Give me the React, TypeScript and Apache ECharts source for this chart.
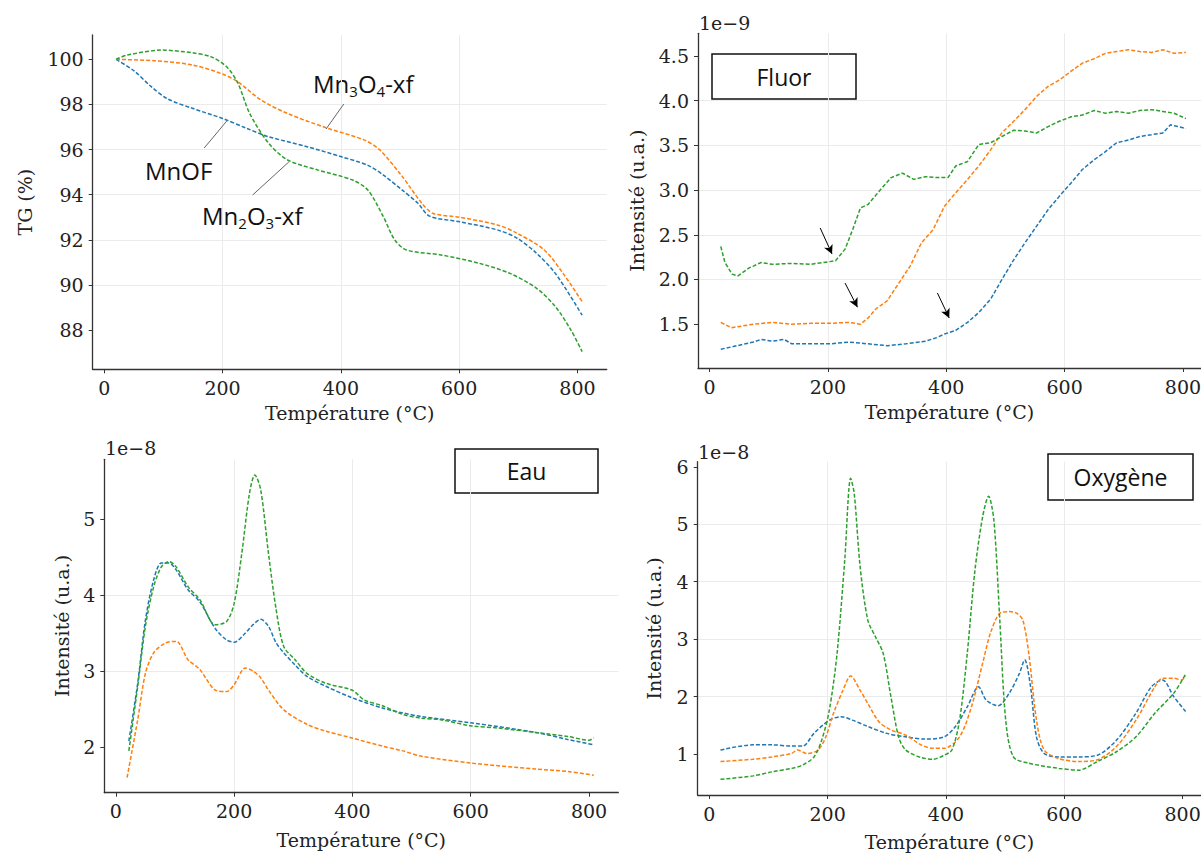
import React, { useEffect, useRef } from "react";
import * as echarts from "echarts";

// ---------- DATA ----------
const xTicks = [0, 200, 400, 600, 800];

// TG (%)
const tgMnOFT = [20, 50, 79, 107, 149, 200, 240, 278, 343, 401, 446, 472, 504, 530, 550, 601, 666, 698, 731, 763, 808];
const tgMnOFV = [100.0, 99.5, 98.8, 98.25, 97.83, 97.38, 96.95, 96.57, 96.13, 95.68, 95.3, 94.87, 94.2, 93.63, 93.05, 92.8, 92.43, 92.07, 91.4, 90.5, 88.66];
const tgMn3O4T = [20, 84, 149, 200, 226, 265, 310, 375, 440, 466, 504, 537, 556, 601, 666, 698, 744, 776, 808];
const tgMn3O4V = [100.0, 99.94, 99.75, 99.35, 99.0, 98.2, 97.6, 96.97, 96.42, 95.98, 94.8, 93.62, 93.17, 93.0, 92.65, 92.29, 91.55, 90.5, 89.26];
const tgMn2O3T = [20, 39, 97, 149, 181, 207, 226, 246, 278, 310, 362, 420, 446, 472, 491, 511, 569, 634, 686, 731, 763, 789, 808];
const tgMn2O3V = [100.0, 100.19, 100.41, 100.29, 100.11, 99.67, 98.94, 97.6, 96.28, 95.54, 95.09, 94.65, 94.2, 93.02, 92.0, 91.55, 91.33, 90.96, 90.51, 89.85, 89.03, 88.0, 87.04];
const tgTicks = [88, 90, 92, 94, 96, 98, 100];

// Fluor (x1e-9)
const fBlueT = [19, 40, 74, 87, 106, 126, 139, 171, 203, 236, 268, 300, 332, 365, 384, 397, 416, 436, 455, 475, 494, 514, 533, 553, 572, 591, 611, 630, 650, 669, 688, 708, 727, 747, 766, 779, 792, 805];
const fBlueV = [1.22, 1.25, 1.3, 1.33, 1.31, 1.33, 1.28, 1.28, 1.28, 1.3, 1.28, 1.26, 1.28, 1.31, 1.35, 1.39, 1.43, 1.52, 1.63, 1.78, 2.0, 2.22, 2.41, 2.6, 2.78, 2.93, 3.08, 3.23, 3.34, 3.43, 3.53, 3.56, 3.6, 3.62, 3.64, 3.73, 3.71, 3.69];
const fOrangeT = [19, 37, 74, 106, 139, 171, 203, 236, 255, 268, 281, 300, 320, 339, 358, 378, 397, 416, 436, 455, 475, 494, 514, 533, 553, 572, 591, 611, 630, 650, 669, 688, 708, 727, 747, 766, 785, 805];
const fOrangeV = [1.52, 1.46, 1.5, 1.52, 1.5, 1.51, 1.51, 1.52, 1.5, 1.57, 1.67, 1.76, 1.96, 2.15, 2.41, 2.56, 2.82, 2.97, 3.12, 3.27, 3.45, 3.64, 3.77, 3.9, 4.05, 4.16, 4.23, 4.33, 4.42, 4.47, 4.53, 4.55, 4.57, 4.55, 4.54, 4.57, 4.53, 4.54];
const fGreenT = [19, 26, 38, 48, 67, 74, 87, 106, 139, 171, 203, 213, 229, 242, 255, 268, 287, 307, 326, 345, 365, 384, 403, 416, 436, 455, 475, 494, 514, 533, 553, 572, 591, 611, 630, 650, 669, 688, 708, 727, 747, 766, 785, 805];
const fGreenV = [2.37, 2.19, 2.06, 2.04, 2.13, 2.15, 2.19, 2.17, 2.18, 2.17, 2.2, 2.21, 2.34, 2.56, 2.8, 2.84, 2.99, 3.14, 3.19, 3.12, 3.15, 3.14, 3.14, 3.27, 3.32, 3.51, 3.53, 3.6, 3.67, 3.66, 3.64, 3.71, 3.77, 3.82, 3.84, 3.89, 3.86, 3.88, 3.86, 3.89, 3.9, 3.88, 3.86, 3.8];
const fTicks = [1.5, 2.0, 2.5, 3.0, 3.5, 4.0, 4.5];
// arrows [tailT, tailV, headT, headV]
const fArrows = [
  [187, 2.576, 207, 2.285],
  [229, 1.96, 250, 1.69],
  [385, 1.85, 405, 1.57],
];

// Eau (x1e-8)
const eBlueT = [22, 37, 50, 64, 77, 90, 102, 122, 142, 168, 187, 200, 219, 232, 245, 258, 271, 284, 303, 323, 355, 399, 452, 485, 517, 600, 712, 764, 808];
const eBlueV = [2.08, 2.84, 3.67, 4.2, 4.42, 4.42, 4.33, 4.07, 3.91, 3.56, 3.41, 3.38, 3.5, 3.61, 3.68, 3.59, 3.37, 3.24, 3.08, 2.93, 2.8, 2.65, 2.51, 2.45, 2.4, 2.32, 2.19, 2.1, 2.03];
const eOrangeT = [19, 37, 50, 64, 84, 102, 122, 142, 168, 187, 200, 219, 232, 245, 258, 284, 323, 355, 399, 452, 485, 517, 600, 712, 764, 808];
const eOrangeV = [1.6, 2.36, 2.97, 3.24, 3.37, 3.39, 3.15, 3.02, 2.75, 2.73, 2.82, 3.04, 3.0, 2.91, 2.75, 2.49, 2.3, 2.21, 2.12, 2.01, 1.95, 1.88, 1.79, 1.71, 1.68, 1.63];
const eGreenT = [22, 37, 50, 64, 77, 90, 102, 122, 142, 168, 187, 200, 213, 226, 235, 245, 258, 271, 284, 303, 323, 355, 399, 420, 452, 485, 517, 549, 600, 647, 712, 764, 800, 808];
const eGreenV = [1.95, 2.8, 3.59, 4.11, 4.37, 4.44, 4.37, 4.11, 3.94, 3.61, 3.65, 3.89, 4.55, 5.34, 5.58, 5.38, 4.55, 3.81, 3.32, 3.15, 2.97, 2.84, 2.75, 2.62, 2.54, 2.43, 2.38, 2.36, 2.28, 2.25, 2.19, 2.14, 2.09, 2.12];
const eTicks = [2, 3, 4, 5];

// Oxygène (x1e-8)
const oBlueT = [19, 74, 106, 139, 158, 177, 203, 223, 242, 268, 300, 332, 365, 397, 416, 436, 455, 468, 488, 507, 524, 533, 543, 553, 566, 591, 624, 656, 688, 721, 747, 766, 785, 805];
const oBlueV = [1.07, 1.16, 1.16, 1.14, 1.14, 1.36, 1.59, 1.65, 1.59, 1.48, 1.36, 1.3, 1.26, 1.3, 1.48, 1.82, 2.17, 1.94, 1.84, 2.06, 2.4, 2.64, 2.17, 1.3, 1.01, 0.95, 0.95, 0.98, 1.24, 1.71, 2.17, 2.29, 2.0, 1.74];
const oOrangeT = [19, 74, 106, 139, 149, 165, 184, 197, 210, 226, 239, 255, 268, 287, 307, 332, 358, 378, 397, 423, 443, 462, 475, 491, 507, 520, 530, 540, 553, 566, 591, 624, 656, 688, 721, 753, 766, 785, 798, 805];
const oOrangeV = [0.87, 0.91, 0.95, 1.01, 1.07, 1.01, 1.07, 1.3, 1.71, 2.11, 2.36, 2.11, 1.88, 1.56, 1.42, 1.33, 1.16, 1.1, 1.1, 1.3, 1.82, 2.58, 3.1, 3.45, 3.48, 3.45, 3.33, 2.75, 1.59, 1.07, 0.92, 0.87, 0.9, 1.13, 1.59, 2.17, 2.32, 2.32, 2.29, 2.35];
const oGreenT = [19, 74, 106, 139, 158, 177, 190, 203, 216, 229, 239, 245, 255, 268, 281, 294, 307, 320, 332, 358, 378, 397, 410, 423, 436, 449, 462, 472, 481, 491, 501, 514, 540, 591, 624, 656, 688, 721, 753, 785, 805];
const oGreenV = [0.56, 0.62, 0.69, 0.75, 0.81, 0.95, 1.24, 1.77, 2.75, 4.38, 5.8, 5.54, 4.26, 3.33, 3.04, 2.75, 2.0, 1.3, 1.07, 0.94, 0.91, 0.98, 1.07, 1.59, 2.75, 4.2, 5.13, 5.49, 5.07, 3.33, 1.59, 0.95, 0.84, 0.75, 0.72, 0.87, 1.04, 1.3, 1.71, 2.06, 2.39];
const oTicks = [1, 2, 3, 4, 5, 6];

// leader lines for TG labels [T1, V1, T2, V2]
const tgLeaders = [
  [405, 98.02, 375, 96.91],
  [169, 96.07, 207, 97.26],
  [251, 93.99, 312, 95.45],
];

// ---------- STYLE ----------
const BLUE = "#1f77b4";
const ORANGE = "#ff7f0e";
const GREEN = "#2ca02c";
const SERIF = '"DejaVu Serif", serif';
const SANS = '"Open Sans", sans-serif';
const TXT = "#222";

const pairs = (t: number[], v: number[]) => t.map((x, i) => [x, v[i]]);

function xAxis(gridIndex: number, max: number, nameGap: number) {
  return {
    type: "value",
    gridIndex,
    min: -19.5,
    max,
    minInterval: 200,
    maxInterval: 200,
    name: "Température (°C)",
    nameLocation: "middle",
    nameGap,
    nameTextStyle: { fontFamily: SERIF, fontSize: 19, color: TXT },
    axisLine: { show: true, onZero: false, lineStyle: { color: "#333", width: 1.3 } },
    axisTick: { show: true, inside: false, length: 4, customValues: xTicks, lineStyle: { color: "#333", width: 1 } },
    axisLabel: { customValues: xTicks, margin: 9, fontFamily: SERIF, fontSize: 19, color: TXT },
    splitLine: { show: true, showMinLine: false, showMaxLine: false, lineStyle: { color: "#ebebeb", width: 1 } },
  };
}

function yAxis(gridIndex: number, min: number, max: number, step: number, ticks: number[], name: string, nameGap: number, decimals: number) {
  return {
    type: "value",
    gridIndex,
    min,
    max,
    minInterval: step,
    maxInterval: step,
    name,
    nameLocation: "middle",
    nameRotate: 90,
    nameGap,
    nameTextStyle: { fontFamily: SERIF, fontSize: 19, color: TXT },
    axisLine: { show: true, onZero: false, lineStyle: { color: "#333", width: 1.3 } },
    axisTick: { show: true, inside: false, length: 4, customValues: ticks, lineStyle: { color: "#333", width: 1 } },
    axisLabel: {
      customValues: ticks,
      margin: 9,
      fontFamily: SERIF,
      fontSize: 19,
      color: TXT,
      formatter: (v: number) => v.toFixed(decimals),
    },
    splitLine: { show: true, showMinLine: false, showMaxLine: false, lineStyle: { color: "#ebebeb", width: 1 } },
  };
}

function line(idx: number, data: number[][], color: string, smooth: number | boolean, extra: any = {}) {
  return {
    type: "line",
    xAxisIndex: idx,
    yAxisIndex: idx,
    data,
    smooth,
    showSymbol: false,
    symbol: "none",
    lineStyle: { color, width: 1.5, type: [4, 2] },
    itemStyle: { color },
    silent: true,
    ...extra,
  };
}

function segMarkLine(segs: number[][], color: string, arrow: boolean) {
  return {
    silent: true,
    symbol: arrow ? ["none", "arrow"] : ["none", "none"],
    symbolSize: arrow ? [7, 9] : 0,
    label: { show: false },
    emphasis: { disabled: true },
    lineStyle: { color, width: 1, type: "solid" },
    data: segs.map((s) => [{ coord: [s[0], s[1]] }, { coord: [s[2], s[3]] }]),
  };
}

function boxLabel(x: number, y: number, w: number, h: number, text: string) {
  return {
    type: "group",
    children: [
      { type: "rect", shape: { x, y, width: w, height: h }, style: { fill: "#fff", stroke: "#111", lineWidth: 1.5 } },
      {
        type: "text",
        x: x + w / 2,
        y: y + h / 2,
        style: { text, font: `23px ${SANS}`, fill: "#111", align: "center", verticalAlign: "middle" },
      },
    ],
  };
}

function subLabel(x: number, y: number, text: string) {
  return {
    type: "text",
    x,
    y,
    style: {
      text,
      font: `24px ${SANS}`,
      fill: "#111",
      align: "left",
      verticalAlign: "middle",
      rich: {
        m: { fontSize: 24, fontFamily: SANS, lineHeight: 30, verticalAlign: "bottom" },
        s: { fontSize: 15, fontFamily: SANS, lineHeight: 15, verticalAlign: "bottom", padding: [0, 0, -3, 0] },
      },
    },
  };
}

function offsetText(x: number, y: number, text: string) {
  return {
    type: "text",
    x,
    y,
    style: { text, font: `19px ${SERIF}`, fill: TXT, align: "left", verticalAlign: "middle" },
  };
}

export default function App() {
  const ref = useRef<HTMLDivElement>(null);
  useEffect(() => {
    if (!ref.current) return;
    const chart = echarts.init(ref.current, null, { renderer: "svg" });
    const option: any = {
      animation: false,
      backgroundColor: "#fff",
      grid: [
        { left: 92.7, top: 35, width: 514, height: 334.3, outerBoundsMode: "none" },
        { left: 698, top: 33.3, width: 503, height: 334.7, outerBoundsMode: "none" },
        { left: 104.3, top: 459.3, width: 514, height: 333.4, outerBoundsMode: "none" },
        { left: 697.7, top: 461.7, width: 503.3, height: 333.3, outerBoundsMode: "none" },
      ],
      xAxis: [xAxis(0, 849.5, 34), xAxis(1, 830.5, 34), xAxis(2, 849.5, 38), xAxis(3, 831, 37)],
      yAxis: [
        yAxis(0, 86.26, 101.08, 2, tgTicks, "TG (%)", 58, 0),
        yAxis(1, 1.01, 4.754, 0.5, fTicks, "Intensité (u.a.)", 52, 1),
        yAxis(2, 1.4, 5.785, 1, eTicks, "Intensité (u.a.)", 33, 0),
        yAxis(3, 0.287, 6.09, 1, oTicks, "Intensité (u.a.)", 34, 0),
      ],
      series: [
        line(0, pairs(tgMnOFT, tgMnOFV), BLUE, 0.3),
        line(0, pairs(tgMn3O4T, tgMn3O4V), ORANGE, 0.3),
        line(0, pairs(tgMn2O3T, tgMn2O3V), GREEN, 0.3, { markLine: segMarkLine(tgLeaders, "#666", false) }),
        line(1, pairs(fBlueT, fBlueV), BLUE, false),
        line(1, pairs(fOrangeT, fOrangeV), ORANGE, false),
        line(1, pairs(fGreenT, fGreenV), GREEN, false, { markLine: segMarkLine(fArrows, "#000", true) }),
        line(2, pairs(eBlueT, eBlueV), BLUE, 0.3),
        line(2, pairs(eOrangeT, eOrangeV), ORANGE, 0.3),
        line(2, pairs(eGreenT, eGreenV), GREEN, 0.3),
        line(3, pairs(oBlueT, oBlueV), BLUE, 0.3),
        line(3, pairs(oOrangeT, oOrangeV), ORANGE, 0.3),
        line(3, pairs(oGreenT, oGreenV), GREEN, 0.3),
      ],
      graphic: [
        subLabel(313, 80, "{m|Mn}{s|3}{m|O}{s|4}{m|-xf}"),
        subLabel(145, 167, "{m|MnOF}"),
        subLabel(202, 212, "{m|Mn}{s|2}{m|O}{s|3}{m|-xf}"),
        boxLabel(712, 54, 144, 45, "Fluor"),
        boxLabel(455, 449, 143, 44, "Eau"),
        boxLabel(1048, 454, 145, 46, "Oxygène"),
        offsetText(699, 23, "1e\u22129"),
        offsetText(105, 448, "1e\u22128"),
        offsetText(698, 452, "1e\u22128"),
      ],
    };
    chart.setOption(option);
    return () => chart.dispose();
  }, []);
  return (
    <div
      ref={ref}
      style={{ position: "absolute", left: 0, top: 0, width: 1201, height: 853, background: "#fff" }}
    />
  );
}
